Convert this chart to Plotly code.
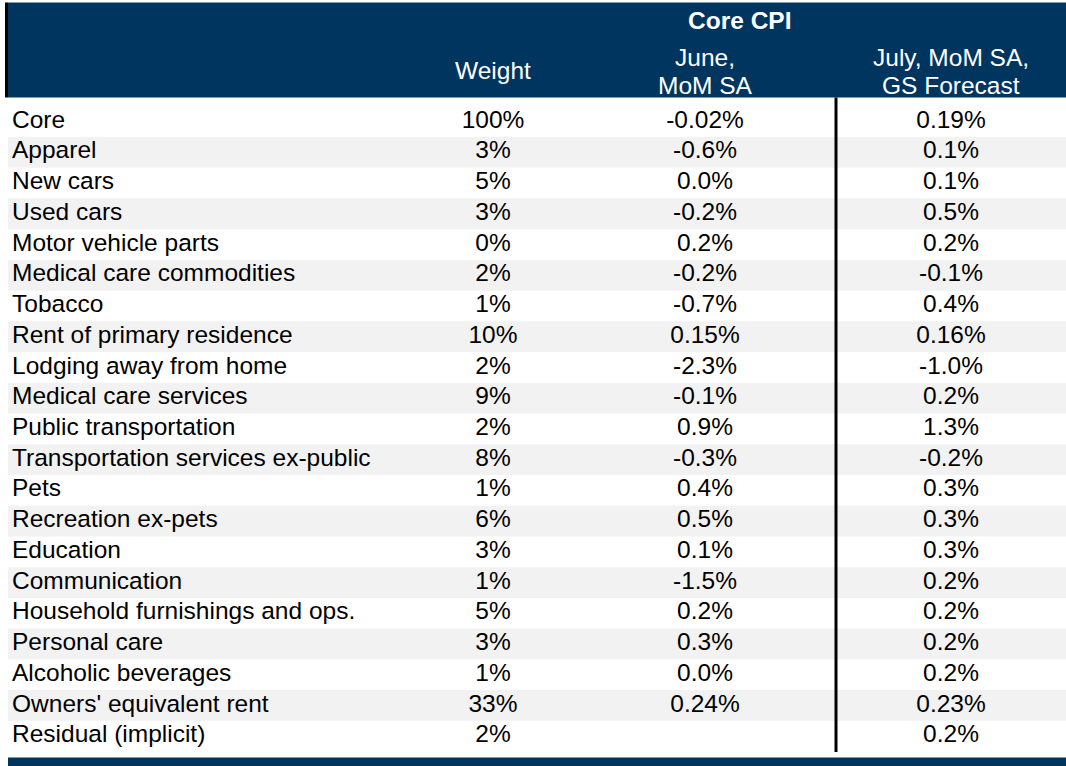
import plotly.graph_objects as go

categories = ["Core", "Apparel", "New cars", "Used cars", "Motor vehicle parts",
              "Medical care commodities", "Tobacco", "Rent of primary residence",
              "Lodging away from home", "Medical care services", "Public transportation",
              "Transportation services ex-public", "Pets", "Recreation ex-pets",
              "Education", "Communication", "Household furnishings and ops.",
              "Personal care", "Alcoholic beverages", "Owners' equivalent rent",
              "Residual (implicit)"]
weight = ["100%", "3%", "5%", "3%", "0%", "2%", "1%", "10%", "2%", "9%", "2%", "8%",
          "1%", "6%", "3%", "1%", "5%", "3%", "1%", "33%", "2%"]
june_mom = ["-0.02%", "-0.6%", "0.0%", "-0.2%", "0.2%", "-0.2%", "-0.7%", "0.15%",
            "-2.3%", "-0.1%", "0.9%", "-0.3%", "0.4%", "0.5%", "0.1%", "-1.5%",
            "0.2%", "0.3%", "0.0%", "0.24%", ""]
july_fcst = ["0.19%", "0.1%", "0.1%", "0.5%", "0.2%", "-0.1%", "0.4%", "0.16%",
             "-1.0%", "0.2%", "1.3%", "-0.2%", "0.3%", "0.3%", "0.3%", "0.2%",
             "0.2%", "0.2%", "0.2%", "0.23%", "0.2%"]
header_group = "Core CPI"
header_cols = ["Weight", "June,<br>MoM SA", "July, MoM SA,<br>GS Forecast"]

W, H = 1066, 766
HEAD_TOP, HEAD_BOT = 2.5, 97.5
FIRST_BOT = 137          # first (Core) row is taller
BODY_BOT = 751.5
n = len(categories)
RH = (BODY_BOT - FIRST_BOT) / (n - 1)

NAVY = "#003560"
SHADE = "#F2F2F2"
FONT = "Arial, Liberation Sans, sans-serif"
FS = 24.5

X_LABEL = 12
X_W, X_J, X_JU = 493, 705, 951
X_GROUP = 739
X_SEP = 836


def row_top(i):
    return HEAD_BOT if i == 0 else FIRST_BOT + (i - 1) * RH


def row_bot(i):
    return FIRST_BOT if i == 0 else FIRST_BOT + i * RH


def row_mid(i):
    return 121.5 if i == 0 else (row_top(i) + row_bot(i)) / 2


ys = [row_mid(i) for i in range(n)]
fig = go.Figure()
fig.add_trace(go.Scatter(x=[X_LABEL] * n, y=ys, mode="text", text=categories,
                         textposition="middle right",
                         textfont=dict(family=FONT, size=FS, color="black"),
                         hoverinfo="skip"))
for xc, vals in [(X_W, weight), (X_J, june_mom), (X_JU, july_fcst)]:
    fig.add_trace(go.Scatter(x=[xc] * n, y=ys, mode="text", text=vals,
                             textposition="middle center",
                             textfont=dict(family=FONT, size=FS, color="black"),
                             hoverinfo="skip"))

shapes = []
shapes.append(dict(type="rect", xref="x", yref="y", x0=8, x1=W,
                   y0=HEAD_TOP, y1=HEAD_BOT, fillcolor=NAVY, line_width=0, layer="below"))
shapes.append(dict(type="rect", xref="x", yref="y", x0=5, x1=8,
                   y0=HEAD_TOP, y1=HEAD_BOT, fillcolor="black", line_width=0, layer="below"))
for i in range(n):
    if i % 2 == 1:
        shapes.append(dict(type="rect", xref="x", yref="y", x0=8, x1=W,
                           y0=row_top(i), y1=row_bot(i), fillcolor=SHADE, line_width=0,
                           layer="below"))
shapes.append(dict(type="rect", xref="x", yref="y", x0=8, x1=W,
                   y0=757.5, y1=H + 2, fillcolor=NAVY, line_width=0, layer="below"))
shapes.append(dict(type="line", xref="x", yref="y", x0=X_SEP, x1=X_SEP,
                   y0=HEAD_BOT, y1=BODY_BOT + 0.5, line=dict(color="black", width=3)))

hfont = dict(family=FONT, size=FS, color="white")
annotations = [dict(x=X_GROUP, y=20, xref="x", yref="y", text="<b>" + header_group + "</b>",
                    showarrow=False, font=hfont)]
for xc, txt in zip([X_W, X_J, X_JU], header_cols):
    lines = txt.split("<br>")
    if len(lines) == 1:
        annotations.append(dict(x=xc, y=70, xref="x", yref="y", text=lines[0],
                                showarrow=False, font=hfont))
    else:
        for ln, py in zip(lines, [57, 85]):
            annotations.append(dict(x=xc, y=py, xref="x", yref="y", text=ln,
                                    showarrow=False, font=hfont))

fig.update_layout(
    width=W, height=H, margin=dict(l=0, r=0, t=0, b=0),
    paper_bgcolor="white", plot_bgcolor="white", showlegend=False,
    xaxis=dict(range=[0, W], visible=False, fixedrange=True),
    yaxis=dict(range=[H, 0], visible=False, fixedrange=True),
    shapes=shapes, annotations=annotations, hovermode=False,
)
fig.write_html("out.html", config={"displayModeBar": False},
               post_script="document.body.style.margin='0';document.body.style.overflow='hidden';")
